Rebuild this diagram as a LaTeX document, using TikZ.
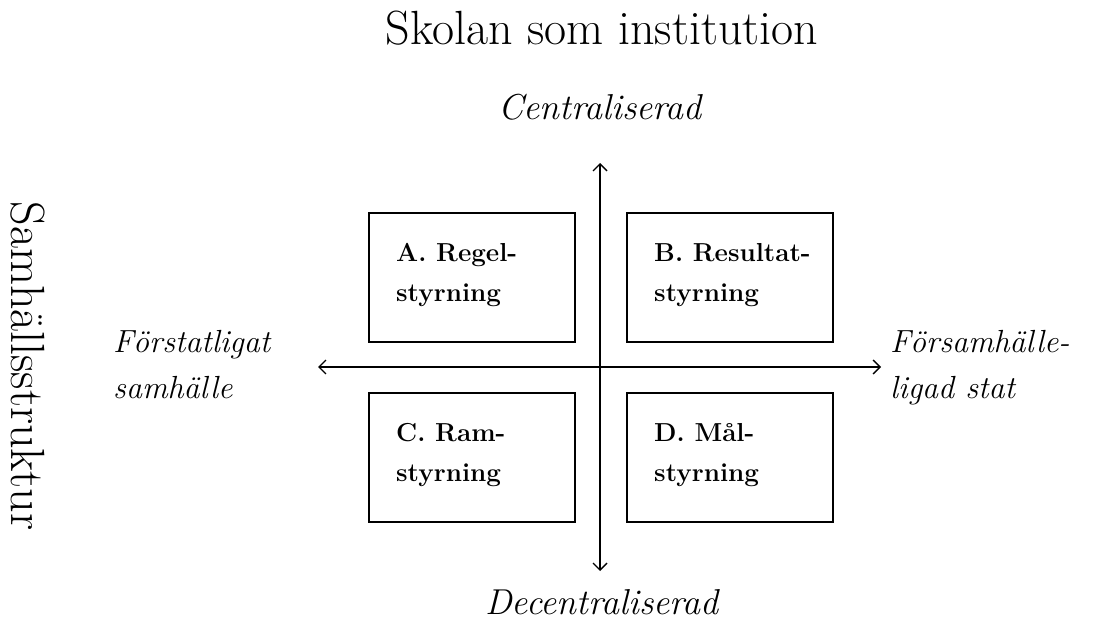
\documentclass[tikz,border=0pt]{standalone}
\usetikzlibrary{arrows.meta}
\begin{document}
\begin{tikzpicture}[x=1pt,y=-1pt,
  quad/.style={draw,line width=2pt,minimum width=206pt,minimum height=129pt,anchor=north west,inner sep=0pt},
  quadtext/.style={anchor=north west,align=left,font=\fontsize{26}{40}\selectfont\bfseries,inner sep=0pt},
  axis/.style={line width=1.8pt,{Straight Barb[length=7pt,width=14pt,line width=1.4pt]}-{Straight Barb[length=7pt,width=14pt,line width=1.4pt]}},
  lab/.style={font=\fontsize{36}{44}\selectfont\itshape,inner sep=0pt},
  side/.style={font=\fontsize{32}{46}\selectfont\itshape,align=left,inner sep=0pt,anchor=north west}]
\useasboundingbox (0,0) rectangle (1116,623);
% axes end coordinates
\coordinate (top) at (600,163);
\coordinate (bot) at (600,571);
\coordinate (lft) at (318,367);
\coordinate (rgt) at (881,367);
\draw[axis] (top) -- (bot);
\draw[axis] (lft) -- (rgt);
% boxes
\node[quad] (A) at (368,212) {};
\node[quad] (B) at (626,212) {};
\node[quad] (C) at (368,392) {};
\node[quad] (D) at (626,392) {};
\node[quadtext] (At) at (396,243) {A. Regel-\\styrning};
\node[quadtext] (Bt) at (654,243) {B. Resultat-\\styrning};
\node[quadtext] (Ct) at (396,423) {C. Ram-\\styrning};
\node[quadtext] (Dt) at (654,423) {D. Mål-\\styrning};
% labels
\node[font=\fontsize{48}{52}\selectfont,anchor=base,inner sep=0pt] (title) at (602,45) {Skolan som institution};
\node[lab,anchor=base] (cen) at (600,120) {Centraliserad};
\node[lab,anchor=base] (dec) at (602,614) {Decentraliserad};
\node[side] (fs) at (113,330) {Förstatligat\\samhälle};
\node[side] (fr) at (890,330) {Församhälle-\\ligad stat};
\node[font=\fontsize{48}{52}\selectfont,rotate=-90,inner sep=0pt] (sam) at (28,366) {Samhällsstruktur};
\end{tikzpicture}
\end{document}
